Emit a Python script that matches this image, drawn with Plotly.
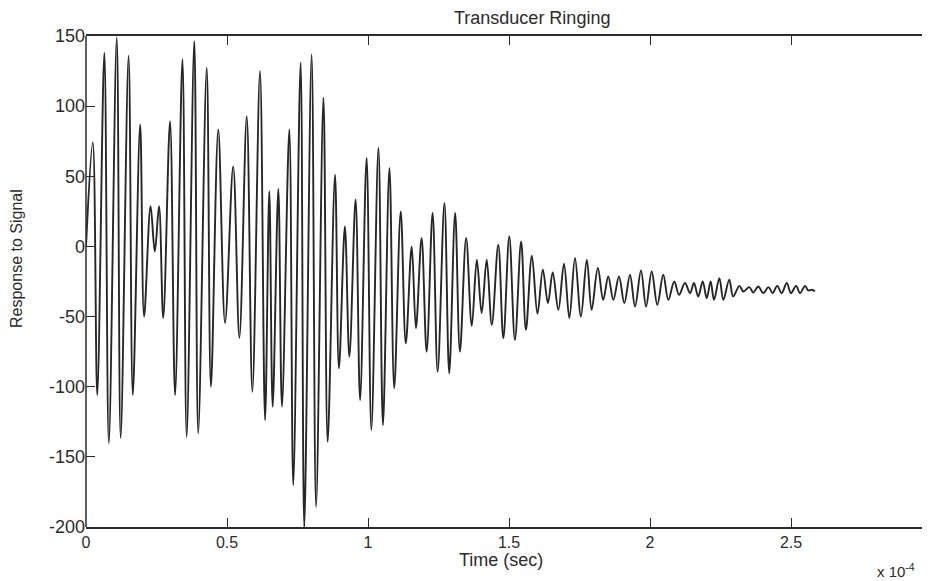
import plotly.graph_objects as go

# Time in units of 1e-4 s (local extrema of the ringing signal)
time_1e4s = [
    0.000, 0.024, 0.040, 0.065, 0.081, 0.109, 0.123, 0.151, 0.166, 0.192,
    0.206, 0.229, 0.244, 0.259, 0.274, 0.298, 0.316, 0.342, 0.357, 0.384,
    0.398, 0.428, 0.443, 0.469, 0.493, 0.522, 0.544, 0.570, 0.590, 0.617,
    0.635, 0.650, 0.662, 0.682, 0.695, 0.721, 0.735, 0.761, 0.774, 0.800,
    0.816, 0.842, 0.857, 0.883, 0.897, 0.918, 0.934, 0.956, 0.972, 0.995,
    1.012, 1.037, 1.053, 1.076, 1.093, 1.116, 1.134, 1.155, 1.170, 1.190,
    1.208, 1.229, 1.247, 1.271, 1.288, 1.309, 1.326, 1.348, 1.368, 1.386,
    1.403, 1.421, 1.439, 1.462, 1.480, 1.501, 1.521, 1.543, 1.560, 1.581,
    1.601, 1.620, 1.638, 1.655, 1.675, 1.695, 1.714, 1.734, 1.755, 1.776,
    1.793, 1.815, 1.834, 1.852, 1.870, 1.890, 1.909, 1.929, 1.947, 1.968,
    1.986, 2.006, 2.026, 2.047, 2.065, 2.086, 2.103, 2.124, 2.142, 2.156,
    2.171, 2.187, 2.201, 2.215, 2.227, 2.246, 2.260, 2.281, 2.295, 2.317,
    2.331, 2.352, 2.366, 2.384, 2.402, 2.420, 2.435, 2.451, 2.467, 2.485,
    2.500, 2.518, 2.532, 2.550, 2.561, 2.573, 2.585,
]

response = [
    0.0, 74.1, -105.9, 138.1, -140.4, 148.9, -136.6, 136.0, -105.9, 86.9,
    -50.0, 28.6, -3.6, 28.6, -51.0, 89.3, -106.0, 133.4, -135.7, 146.4,
    -133.3, 127.4, -100.0, 83.4, -54.5, 57.1, -65.2, 92.9, -103.6, 125.0,
    -123.8, 39.3, -114.3, 41.0, -114.3, 83.4, -170.2, 131.0, -200.0, 136.9,
    -185.7, 106.0, -139.3, 51.2, -86.9, 14.3, -78.6, 33.4, -109.5, 63.1,
    -131.0, 70.3, -127.4, 56.0, -101.1, 25.0, -69.0, 0.0, -58.3, 6.0,
    -75.0, 23.9, -89.3, 31.0, -90.4, 23.9, -75.0, 6.0, -56.6, -9.5,
    -47.6, -9.5, -55.9, 1.2, -65.4, 7.1, -66.6, 3.6, -59.5, -6.6,
    -48.0, -16.6, -40.4, -18.6, -45.2, -12.4, -51.1, -8.3, -50.0, -9.5,
    -45.2, -15.4, -38.1, -21.4, -38.1, -21.4, -40.4, -20.2, -42.9, -17.1,
    -42.9, -17.9, -41.6, -20.2, -38.1, -25.0, -34.5, -26.1, -33.3, -26.1,
    -35.7, -25.0, -36.9, -25.0, -38.1, -22.6, -38.1, -23.8, -35.7, -28.1,
    -32.1, -29.0, -32.9, -28.6, -33.3, -29.0, -33.3, -28.1, -33.3, -26.1,
    -33.3, -28.1, -33.3, -28.1, -31.4, -30.9, -32.0,
]

x_tick_vals = [0, 0.5, 1, 1.5, 2, 2.5]
x_tick_text = ["0", "0.5", "1", "1.5", "2", "2.5"]
y_tick_vals = [150, 100, 50, 0, -50, -100, -150, -200]
y_tick_text = ["150", "100", "50", "0", "-50", "-100", "-150", "-200"]

INK = "#2b2b2b"
FONT = "Liberation Sans, Arial, Helvetica, sans-serif"
NARROW = "Liberation Sans Narrow, Arial Narrow, Liberation Sans, sans-serif"

# The page body keeps its default 8px margin; the figure is offset to compensate.
OFF = 8
W, H = 930 - OFF, 581 - OFF
L, T, B, R = 78, 28, 54, 0
PW = W - L - R
PH = H - T - B
X0, Y1 = OFF + L, OFF + H - B


def px(xs):
    return (xs - X0) / PW


def py(ys):
    return (Y1 - ys) / PH


fig = go.Figure()
fig.add_trace(go.Scatter(
    x=time_1e4s, y=response, mode="lines",
    line=dict(color="#262626", width=1.9, shape="spline", smoothing=1.0),
    showlegend=False, hoverinfo="skip",
))

yticks_common = dict(
    range=[-200, 150], tickvals=y_tick_vals,
    ticks="inside", ticklen=9, tickwidth=1, tickcolor=INK,
    showline=False, showgrid=False, zeroline=False, automargin=False,
)

fig.update_layout(
    width=W, height=H,
    margin=dict(l=L, r=R, t=T, b=B, autoexpand=False),
    paper_bgcolor="white", plot_bgcolor="white",
    font=dict(family=FONT, size=17, color=INK),
    xaxis=dict(
        range=[0, PW / 282.0], tickvals=x_tick_vals, ticktext=x_tick_text,
        ticks="inside", ticklen=9, tickwidth=1, tickcolor=INK,
        showline=True, linecolor=INK, linewidth=1.5, mirror="ticks",
        showgrid=False, zeroline=False, automargin=False,
        tickfont=dict(family=FONT, size=16, color=INK),
    ),
    yaxis=dict(
        **yticks_common, ticktext=y_tick_text, mirror=False,
        tickfont=dict(family=FONT, size=18, color=INK),
    ),
    yaxis2=dict(
        **yticks_common, overlaying="y", side="right", showticklabels=False,
    ),
    shapes=[
        dict(type="line", xref="paper", yref="paper", x0=0, x1=0, y0=0, y1=1,
             line=dict(color=INK, width=1.5)),
    ],
    annotations=[
        dict(text="Transducer Ringing", xref="paper", yref="paper",
             x=px(452), y=py(18), xanchor="left", yanchor="middle",
             showarrow=False, font=dict(family=FONT, size=18, color=INK)),
        dict(text="Time (sec)", xref="paper", yref="paper",
             x=px(501), y=py(560), xanchor="center", yanchor="middle",
             showarrow=False, font=dict(family=FONT, size=18, color=INK)),
        dict(text="Response to Signal", xref="paper", yref="paper", textangle=-90,
             x=px(16), y=py(259), xanchor="center", yanchor="middle",
             showarrow=False, font=dict(family=NARROW, size=16, color=INK)),
        dict(text="x 10<sup>-4</sup>", xref="paper", yref="paper",
             x=px(875), y=py(570), xanchor="left", yanchor="middle",
             showarrow=False, font=dict(family=FONT, size=15, color=INK)),
        dict(text="3", xref="paper", yref="paper",
             x=px(925), y=py(532), xanchor="left", yanchor="top",
             showarrow=False, font=dict(family=FONT, size=16, color=INK)),
    ],
)

fig.write_html(
    "out.html",
    post_script="document.documentElement.style.overflow='hidden';"
                "document.body.style.overflow='hidden';",
)
